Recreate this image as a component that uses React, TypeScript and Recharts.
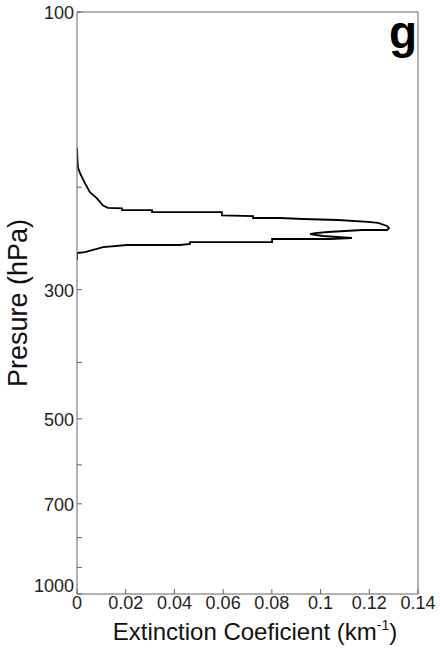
import { LineChart, Line, XAxis, YAxis } from 'recharts';

const extinction = [
    0, 0.0002, 0.0004, 0.0012, 0.0033, 0.0053, 0.0082, 0.0107, 0.0127, 0.0185,
    0.0185, 0.0308, 0.0308, 0.0595, 0.0595, 0.0723, 0.0723, 0.0833, 0.0928, 0.1072,
    0.1195, 0.1236, 0.1273, 0.1281, 0.1273, 0.117, 0.1031, 0.0977, 0.0957, 0.101,
    0.1129, 0.1039, 0.0801, 0.0801, 0.0464, 0.0464, 0.0423, 0.0205, 0.0107, 0.0033,
    0, 0,
];
const pressure = [
    171, 180, 185, 189, 197, 204, 209, 215, 217, 217.5,
    219, 219, 220.7, 220.7, 223.5, 224.2, 225.9, 225.9, 226.8, 227.7,
    229.5, 230.4, 233.2, 235, 236.9, 236.9, 238.8, 239.8, 240.7, 242.6,
    244.5, 245.5, 245.5, 248.5, 248.5, 250.4, 251.4, 251.4, 253.4, 258.5,
    259.5, 267,
];

const xTicks = [0, 0.02, 0.04, 0.06, 0.08, 0.1, 0.12, 0.14];
const yTicks = [100, 200, 300, 400, 500, 600, 700, 800, 900, 1000];
const yLabeled = [100, 300, 500, 700, 1000];

const data = extinction.map((v, i) => ({ ext: v, p: pressure[i] }));

const FONT = '"Liberation Sans", Arial, Helvetica, sans-serif';
const AXIS = '#666';

const LeftTick = (props: any) => {
    const { x, y, payload } = props;
    const v = payload.value;
    return (
        <g>
            <line x1={x} x2={x + 5} y1={y} y2={y} stroke={AXIS} />
            {yLabeled.includes(v) && (
                <text x={x - 3} y={v === 1000 ? y - 8 : y + 1} dy="0.35em" textAnchor="end" fontSize={18} fontFamily={FONT} fill="#222">
                    {v}
                </text>
            )}
        </g>
    );
};

const RightTick = (props: any) => {
    const { x, y } = props;
    return <line x1={x} x2={x - 5} y1={y} y2={y} stroke={AXIS} />;
};

const BottomTick = (props: any) => {
    const { x, y, payload } = props;
    return (
        <g>
            <line x1={x} x2={x} y1={y} y2={y - 5} stroke={AXIS} />
            <text x={x} y={y + 15} textAnchor="middle" fontSize={18} fontFamily={FONT} fill="#222">
                {String(payload.value)}
            </text>
        </g>
    );
};

const TopTick = (props: any) => {
    const { x, y } = props;
    return <line x1={x} x2={x} y1={y} y2={y + 5} stroke={AXIS} />;
};

export default function App() {
    return (
        <div style={{ position: 'absolute', left: 0, top: 0, width: 440, height: 651, background: '#fff' }}>
            <LineChart
                width={440}
                height={651}
                data={data}
                layout="vertical"
                margin={{ top: 11, right: 21, bottom: 56, left: 76 }}
            >
                <XAxis
                    type="number"
                    dataKey="ext"
                    domain={[0, 0.14]}
                    ticks={xTicks}
                    interval={0}
                    height={1}
                    tickSize={0}
                    tickMargin={0}
                    tickLine={false}
                    stroke={AXIS}
                    tick={<BottomTick />}
                    allowDataOverflow
                />
                <XAxis
                    xAxisId="top"
                    orientation="top"
                    type="number"
                    domain={[0, 0.14]}
                    ticks={xTicks}
                    interval={0}
                    height={1}
                    tickSize={0}
                    tickMargin={0}
                    tickLine={false}
                    stroke={AXIS}
                    tick={<TopTick />}
                />
                <YAxis
                    type="number"
                    dataKey="p"
                    scale="log"
                    domain={[100, 1000]}
                    ticks={yTicks}
                    interval={0}
                    width={1}
                    tickSize={0}
                    tickMargin={0}
                    tickLine={false}
                    stroke={AXIS}
                    tick={<LeftTick />}
                    allowDataOverflow
                />
                <YAxis
                    yAxisId="right"
                    orientation="right"
                    type="number"
                    scale="log"
                    domain={[100, 1000]}
                    ticks={yTicks}
                    interval={0}
                    width={1}
                    tickSize={0}
                    tickMargin={0}
                    tickLine={false}
                    stroke={AXIS}
                    tick={<RightTick />}
                />
                <Line
                    dataKey="ext"
                    type="linear"
                    stroke="#000"
                    strokeWidth={1.8}
                    dot={false}
                    isAnimationActive={false}
                />
                <text x={403} y={48} textAnchor="middle" fontSize={46} fontWeight="bold" fontFamily={FONT} fill="#000">
                    g
                </text>
                <text x={255} y={640} textAnchor="middle" fontSize={24} fontFamily={FONT} fill="#111">
                    Extinction Coeficient (km
                    <tspan dx={0} dy={-10} fontSize={14}>-1</tspan>
                    <tspan dy={10}>)</tspan>
                </text>
                <text
                    x={18}
                    y={303}
                    transform="rotate(-90 18 303)"
                    textAnchor="middle"
                    dominantBaseline="central"
                    fontSize={27}
                    fontFamily={FONT}
                    fill="#111"
                >
                    Presure (hPa)
                </text>
            </LineChart>
        </div>
    );
}
